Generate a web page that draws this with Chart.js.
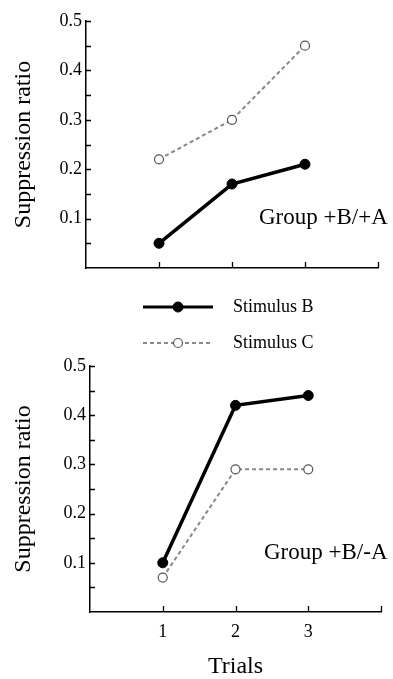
<!DOCTYPE html>
<html>
<head>
<meta charset="utf-8">
<script src="https://cdn.jsdelivr.net/npm/chart.js@4.4.1/dist/chart.umd.min.js"></script>
<style>
html,body{margin:0;padding:0;background:#fff;}
canvas{position:absolute;left:0;}
#chartTop{top:0;}
#chartBottom{top:285px;}
</style>
</head>
<body>
<canvas id="chartTop" width="393" height="285"></canvas>
<canvas id="chartBottom" width="393" height="394"></canvas>
<script>
// data
var trials = [1, 2, 3];
var topStimB = [0.05, 0.17, 0.21];
var topStimC = [0.22, 0.30, 0.45];
var botStimB = [0.10, 0.42, 0.44];
var botStimC = [0.07, 0.29, 0.29];
var seriesNames = ['Stimulus B', 'Stimulus C'];
var groupNames = ['Group +B/+A', 'Group +B/-A'];
var yTickLabels = ['0.1', '0.2', '0.3', '0.4', '0.5'];
var xTickLabels = ['1', '2', '3'];

var serif = "'Liberation Serif', 'Times New Roman', serif";

function pts(vals){
    var out = [];
    for(var i=0;i<trials.length;i++){
        out.push({x: trials[i], y: vals[i]});
    }
    return out;
}

function makeSets(b, c){
    return [{
        label: seriesNames[0],
        data: pts(b),
        borderColor: '#000',
        borderWidth: 3.5,
        pointRadius: 5,
        pointBackgroundColor: '#000',
        pointBorderColor: '#000',
        pointBorderWidth: 1,
        tension: 0
    },{
        label: seriesNames[1],
        data: pts(c),
        borderColor: '#888',
        borderWidth: 2,
        borderDash: [4, 3],
        pointRadius: 4.5,
        pointBackgroundColor: '#fff',
        pointBorderColor: '#555',
        pointBorderWidth: 1.2,
        tension: 0
    }];
}

/* tick marks pointing into the plot */
var innerTicks = {
    id: 'innerTicks',
    afterDraw: function(chart){
        var ctx = chart.ctx, a = chart.chartArea;
        var xs = chart.scales.x, ys = chart.scales.y;
        ctx.save();
        ctx.strokeStyle = '#000';
        ctx.lineWidth = 1.3;
        ctx.beginPath();
        ys.ticks.forEach(function(t){
            if(t.value <= 0) return;
            var py = Math.round(ys.getPixelForValue(t.value)) + 0.5;
            ctx.moveTo(a.left, py);
            ctx.lineTo(a.left + 5, py);
        });
        xs.ticks.forEach(function(t){
            if(t.value <= 0) return;
            var px = Math.round(xs.getPixelForValue(t.value)) + 0.5;
            ctx.moveTo(px, a.bottom);
            ctx.lineTo(px, a.bottom - 6);
        });
        ctx.stroke();
        ctx.restore();
    }
};

/* "Group ..." text inside the plot */
var groupLabel = {
    id: 'groupLabel',
    afterDraw: function(chart, args, opts){
        if(!opts.text) return;
        var ctx = chart.ctx;
        ctx.save();
        ctx.fillStyle = '#000';
        ctx.font = '23px ' + serif;
        ctx.textAlign = 'left';
        ctx.textBaseline = 'middle';
        ctx.fillText(opts.text, opts.x, opts.y);
        ctx.restore();
    }
};

/* shared legend, drawn above the lower plot from the dataset styles */
var lineLegend = {
    id: 'lineLegend',
    afterDraw: function(chart, args, opts){
        if(!opts.show) return;
        var ctx = chart.ctx;
        chart.data.datasets.forEach(function(ds, i){
            var y = opts.y + i * opts.gap;
            ctx.save();
            ctx.strokeStyle = ds.borderColor;
            ctx.lineWidth = ds.borderWidth > 3 ? 3 : 1.8;
            ctx.setLineDash(ds.borderDash || []);
            ctx.beginPath();
            ctx.moveTo(opts.x0, y);
            ctx.lineTo(opts.x1, y);
            ctx.stroke();
            ctx.setLineDash([]);
            ctx.beginPath();
            ctx.arc((opts.x0 + opts.x1) / 2, y, ds.pointRadius, 0, Math.PI * 2);
            ctx.fillStyle = ds.pointBackgroundColor;
            ctx.fill();
            ctx.lineWidth = ds.pointBorderWidth;
            ctx.strokeStyle = ds.pointBorderColor;
            ctx.stroke();
            ctx.fillStyle = '#000';
            ctx.font = '18px ' + serif;
            ctx.textAlign = 'left';
            ctx.textBaseline = 'middle';
            ctx.fillText(ds.label, opts.tx, y);
            ctx.restore();
        });
    }
};

function makeChart(id, sets, cfg){
    return new Chart(document.getElementById(id), {
        type: 'line',
        data: {datasets: sets},
        plugins: [innerTicks, groupLabel, lineLegend],
        options: {
            responsive: false,
            animation: false,
            devicePixelRatio: 1,
            layout: {padding: {left: 0, top: cfg.padTop, right: cfg.padRight, bottom: 0}},
            plugins: {
                legend: {display: false},
                tooltip: {enabled: false},
                groupLabel: {text: cfg.group, x: cfg.gx, y: cfg.gy},
                lineLegend: cfg.legend
            },
            scales: {
                x: {
                    type: 'linear',
                    min: 0,
                    max: 4,
                    afterFit: function(s){ s.height = cfg.xHeight; },
                    grid: {display: false, drawTicks: false},
                    border: {display: true, color: '#000', width: 1.5},
                    ticks: {
                        display: cfg.xLabels,
                        stepSize: 1,
                        padding: 9,
                        color: '#000',
                        font: {family: serif, size: 18},
                        callback: function(v){
                            var k = trials.indexOf(v);
                            return k >= 0 ? xTickLabels[k] : '';
                        }
                    },
                    title: {
                        display: cfg.xLabels,
                        text: 'Trials',
                        color: '#000',
                        font: {family: serif, size: 24, lineHeight: 1},
                        padding: {top: 0, bottom: 0}
                    }
                },
                y: {
                    type: 'linear',
                    min: 0,
                    max: 0.5,
                    afterFit: function(s){ s.width = cfg.yWidth; },
                    grid: {display: false, drawTicks: false},
                    border: {display: true, color: '#000', width: 1.5},
                    ticks: {
                        stepSize: 0.05,
                        autoSkip: false,
                        padding: 4,
                        color: '#000',
                        font: {family: serif, size: 18},
                        callback: function(v){
                            var k = Math.round(v * 100);
                            if(k <= 0 || k % 10 !== 0) return '';
                            return yTickLabels[k / 10 - 1];
                        }
                    },
                    title: {
                        display: true,
                        text: 'Suppression ratio',
                        color: '#000',
                        font: {family: serif, size: 24, lineHeight: 1},
                        padding: {top: 12, bottom: 0}
                    }
                }
            }
        }
    });
}

makeChart('chartTop', makeSets(topStimB, topStimC), {
    padTop: 21, padRight: 15, xHeight: 17, yWidth: 86, xLabels: false,
    group: groupNames[0], gx: 259, gy: 218,
    legend: {show: false}
});

makeChart('chartBottom', makeSets(botStimB, botStimC), {
    padTop: 81, padRight: 12, xHeight: 67, yWidth: 90, xLabels: true,
    group: groupNames[1], gx: 264, gy: 268,
    legend: {show: true, x0: 143, x1: 213, tx: 233, y: 22, gap: 36}
});
</script>
</body>
</html>
